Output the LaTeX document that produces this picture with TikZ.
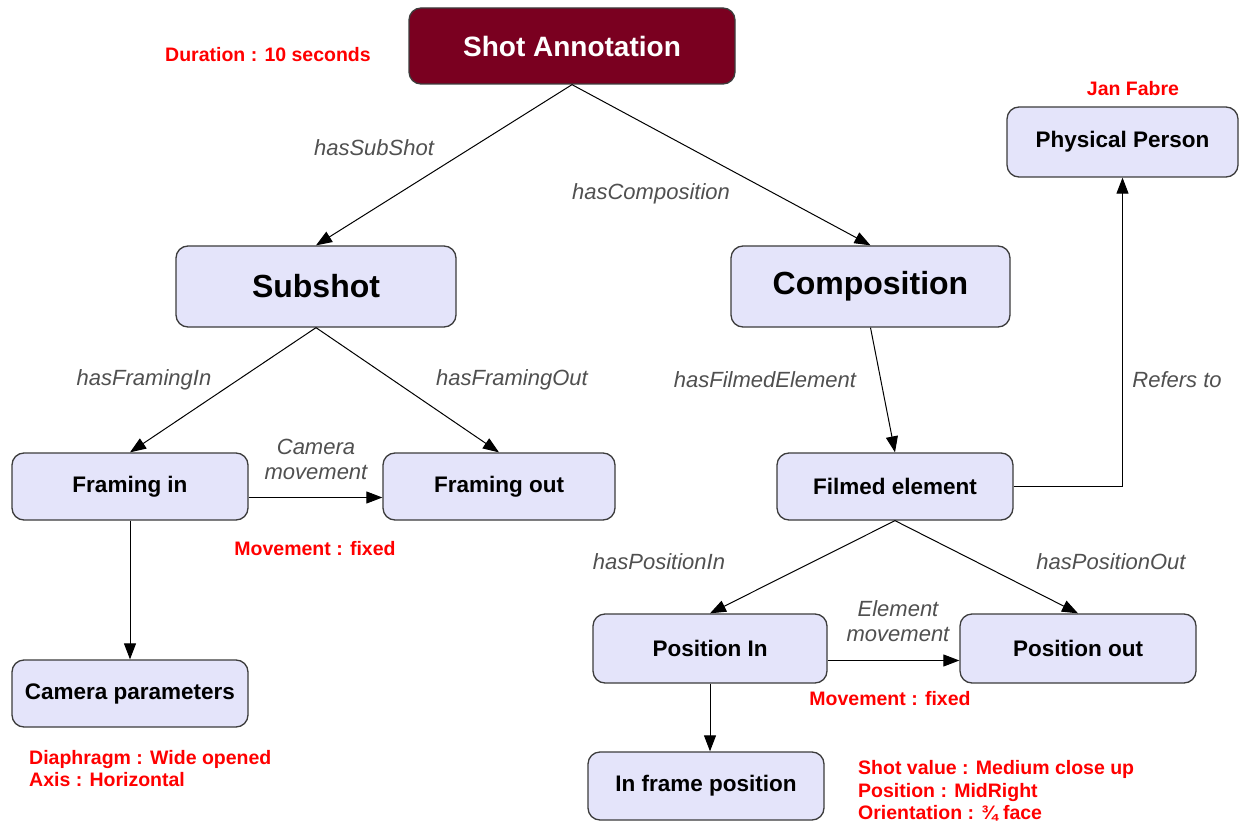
\documentclass[tikz,border=0pt]{standalone}
\usepackage{fontspec}
\setmainfont{Liberation Sans}
\usetikzlibrary{arrows.meta}
\definecolor{boxfill}{RGB}{228,228,250}
\definecolor{boxline}{RGB}{60,60,60}
\definecolor{rootfill}{RGB}{122,0,32}
\definecolor{lblgray}{RGB}{80,80,80}
\definecolor{notered}{RGB}{255,0,0}
\begin{document}
\begin{tikzpicture}[x=1pt,y=-1pt,
  box/.style={rectangle, rounded corners=12pt, draw=boxline, line width=1.3pt,
    fill=boxfill, inner sep=0pt, font=\fontsize{22.5}{27}\selectfont\bfseries},
  bigbox/.style={box, font=\fontsize{32}{38}\selectfont\bfseries},
  rootbox/.style={box, fill=rootfill, text=white, font=\fontsize{28}{34}\selectfont\bfseries},
  lbl/.style={text=lblgray, font=\fontsize{22}{25}\selectfont\itshape, inner sep=0pt},
  note/.style={text=notered, font=\fontsize{19.5}{22.5}\selectfont\bfseries, inner sep=0pt},
  arr/.style={draw=black, line width=1pt, -{Triangle[length=16pt,width=12pt]}},
]
\useasboundingbox (0,0) rectangle (1239,826);
\fill[white] (0,0) rectangle (1239,826);

% concept boxes
\node[rootbox, minimum width=326pt, minimum height=76pt] (shot) at (572,46) {Shot Annotation};
\node[bigbox, minimum width=280pt, minimum height=81pt] (subshot) at (316,286.5) {Subshot};
\node[bigbox, minimum width=279pt, minimum height=81pt] (comp) at (870.5,286.5) {Composition};
\node[box, minimum width=231pt, minimum height=70pt] (person) at (1122.5,142) {Physical Person};
\node[box, minimum width=236pt, minimum height=67pt] (framin) at (130,486.5) {Framing in};
\node[box, minimum width=232pt, minimum height=67pt] (framout) at (499,486.5) {Framing out};
\node[box, minimum width=236pt, minimum height=67pt] (filmed) at (895,486.5) {Filmed element};
\node[box, minimum width=236pt, minimum height=67pt] (campar) at (130,693.5) {Camera parameters};
\node[box, minimum width=234pt, minimum height=69pt] (posin) at (710,648.5) {Position In};
\node[box, minimum width=236pt, minimum height=69pt] (posout) at (1078,648.5) {Position out};
\node[box, minimum width=236pt, minimum height=68pt] (inframe) at (706,786) {In frame position};

% relations
\draw[arr] (shot.south) -- (subshot.north);
\draw[arr] (shot.south) -- (comp.north);
\draw[arr] (subshot.south) -- (framin.north);
\draw[arr] (subshot.south) -- (framout.north);
\draw[arr] ([yshift=-11pt]framin.east) -- ([yshift=-11pt]framout.west);
\draw[arr] (framin.south) -- (campar.north);
\draw[arr] (comp.south) -- (filmed.north);
\draw[arr] (filmed.east) -| (person.south);
\draw[arr] (filmed.south) -- (posin.north);
\draw[arr] (filmed.south) -- (posout.north);
\draw[arr] ([yshift=-12pt]posin.east) -- ([yshift=-12pt]posout.west);
\draw[arr] (posin.south) -- (posin.south |- inframe.north);

% relation labels
\node[lbl] (l1) at (374,148) {hasSubShot};
\node[lbl] (l2) at (651,194) {hasComposition};
\node[lbl] (l3) at (144,380) {hasFramingIn};
\node[lbl] (l4) at (512,380) {hasFramingOut};
\node[lbl] (l5) at (765,380) {hasFilmedElement};
\node[lbl] (l6) at (1177,380) {Refers to};
\node[lbl] (l7) at (659,562) {hasPositionIn};
\node[lbl] (l8) at (1111,562) {hasPositionOut};
\node[lbl, align=center] (l9) at (316,459.5) {Camera\\movement};
\node[lbl, align=center] (l10) at (898,621.5) {Element\\movement};

% annotation values
\node[note] (n1) at (268,55) {Duration : 10 seconds};
\node[note] (n2) at (1133,89) {Jan Fabre};
\node[note] (n3) at (315,549) {Movement : fixed};
\node[note] (n4) at (890,699) {Movement : fixed};
\node[note, align=left, anchor=west] (n5) at (29,768.5) {Diaphragm : Wide opened\\Axis : Horizontal};
\node[note, align=left, anchor=west] (n6) at (858,791) {Shot value : Medium close up\\Position : MidRight\\Orientation : ¾ face};
\end{tikzpicture}
\end{document}
